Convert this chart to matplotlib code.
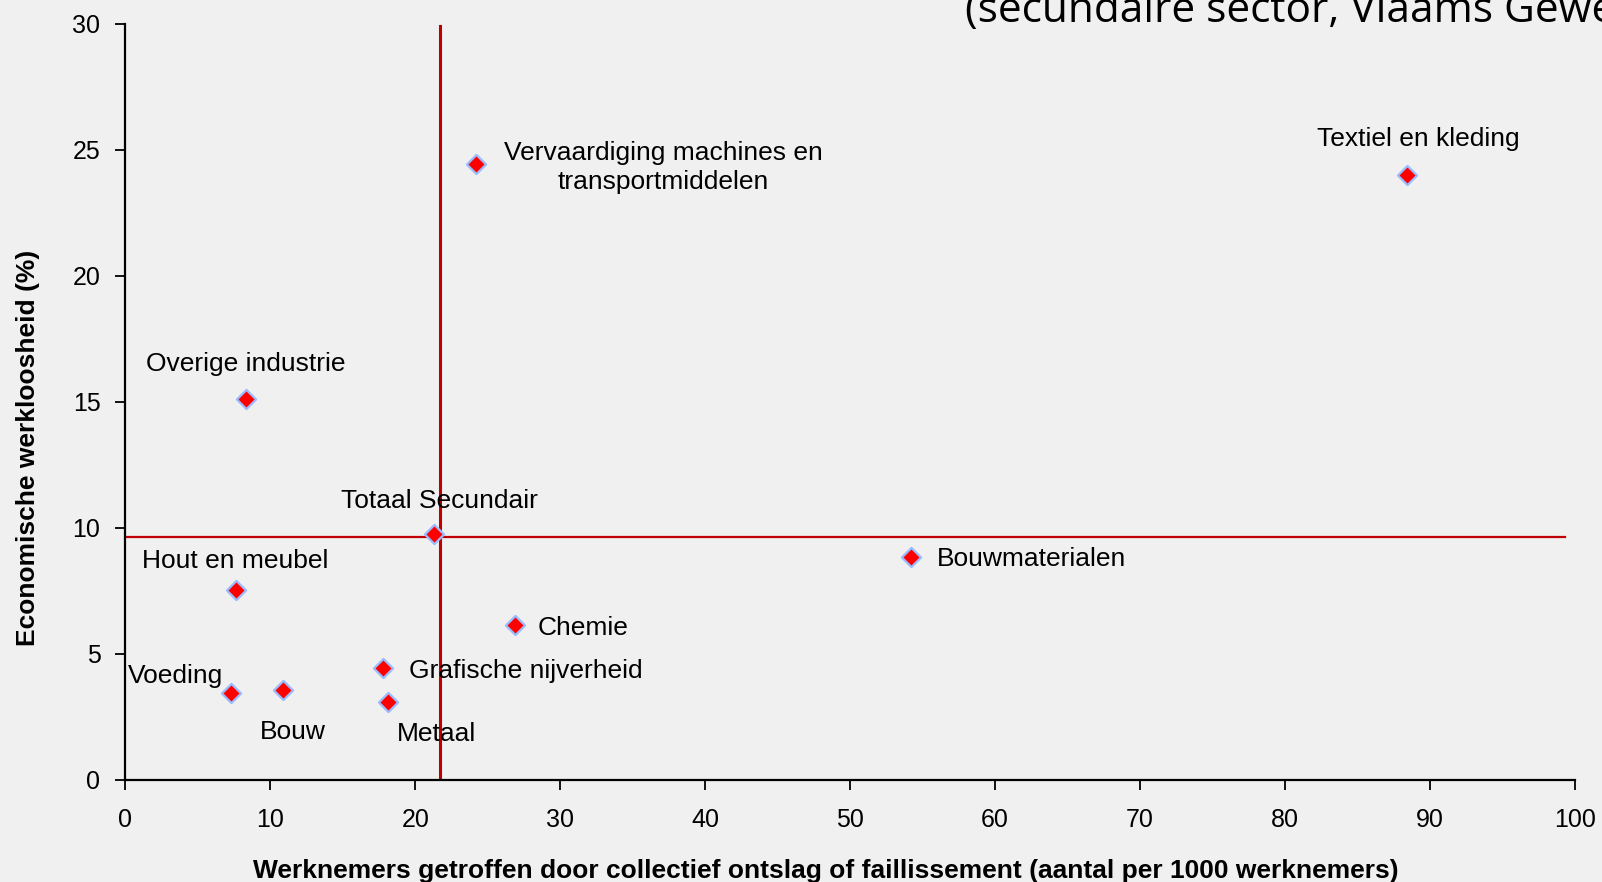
import matplotlib
matplotlib.use('Agg')
import matplotlib.pyplot as plt

# sector data: x = werknemers getroffen (per 1000), y = economische werkloosheid (%)
sectors = ['Voeding', 'Bouw', 'Hout en meubel', 'Overige industrie', 'Totaal Secundair',
           'Grafische nijverheid', 'Metaal', 'Chemie',
           'Vervaardiging machines en\ntransportmiddelen', 'Bouwmaterialen', 'Textiel en kleding']
x_vals = [7.3, 10.9, 7.6, 8.3, 21.3, 17.8, 18.1, 26.9, 24.2, 54.2, 88.4]
y_vals = [3.45, 3.55, 7.55, 15.1, 9.75, 4.45, 3.1, 6.15, 24.45, 8.85, 24.0]
# label offsets in pixels and alignment
offsets = [(-56, 17), (9, -42), (0, 29), (0, 35), (5, 33), (26, -3), (49, -32),
           (22, -3), (187, -4), (26, -2), (12, 36)]
aligns = ['center', 'center', 'center', 'center', 'center', 'left', 'center',
          'left', 'center', 'left', 'center']

avg_x = 21.7
avg_y = 9.64

bg = '#F0F0F0'
fig = plt.figure(figsize=(16.02, 8.82), dpi=100, facecolor=bg)
ax = fig.add_axes([0.0783, 0.1159, 0.9047, 0.8572], facecolor=bg)
plt.rcParams['font.family'] = ['Liberation Sans', 'DejaVu Sans']

ax.plot([avg_x, avg_x], [0, 29.9], color='#C00000', linewidth=2.2, zorder=1)
ax.plot([0, 99.3], [avg_y, avg_y], color='#C00000', linewidth=1.6, zorder=1)

ax.scatter(x_vals, y_vals, marker='D', s=95, color='#FF0000', edgecolors='#99BBFF',
           linewidths=1.6, zorder=3)

for name, x, y, off, ha in zip(sectors, x_vals, y_vals, offsets, aligns):
    ax.annotate(name, (x, y), xytext=off, textcoords='offset pixels', ha=ha, va='center',
                fontsize=19, family='Liberation Sans', linespacing=1.3, zorder=4)

ax.set_xlim(0, 100)
ax.set_ylim(0, 30)
ax.set_xticks(range(0, 101, 10))
ax.set_yticks(range(0, 31, 5))
ax.tick_params(direction='out', length=7, width=1.3, labelsize=18)
ax.tick_params(axis='x', pad=13)
ax.tick_params(axis='y', pad=11)
for lab in ax.get_xticklabels() + ax.get_yticklabels():
    lab.set_family('Liberation Sans')
ax.spines['top'].set_visible(False)
ax.spines['right'].set_visible(False)
ax.spines['left'].set_linewidth(1.6)
ax.spines['bottom'].set_linewidth(1.6)

ax.set_xlabel('Werknemers getroffen door collectief ontslag of faillissement (aantal per 1000 werknemers)',
              fontsize=19, fontweight='bold', family='Liberation Sans', labelpad=20, x=0.483)
ax.set_ylabel('Economische werkloosheid (%)', fontsize=19, fontweight='bold',
              family='Liberation Sans', labelpad=23, y=0.439)

fig.text(0.6024, 0.9754, '(secundaire sector, Vlaams Gewest)', fontsize=30.5,
         family='Open Sans', va='baseline', ha='left')

fig.savefig('out.png', dpi=100, facecolor=bg)
